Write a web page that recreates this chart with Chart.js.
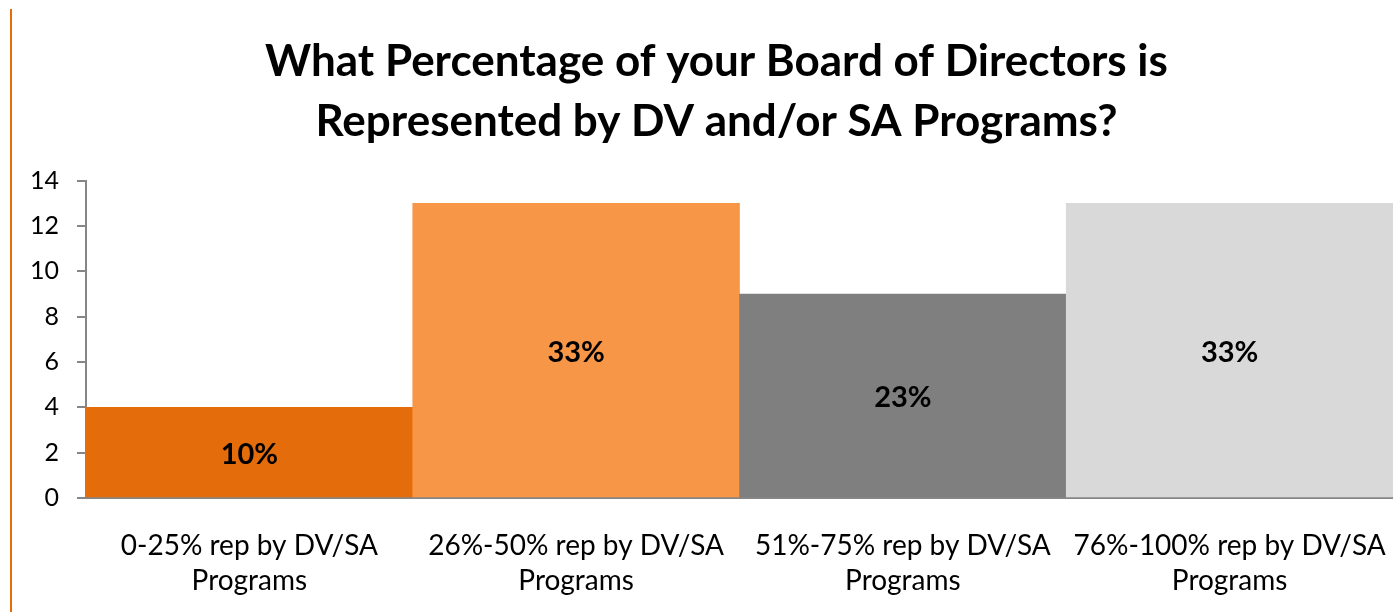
<!DOCTYPE html>
<html>
<head>
<meta charset="utf-8">
<script src="https://cdn.jsdelivr.net/npm/chart.js@4/dist/chart.umd.min.js"></script>
<style>
  html, body { margin: 0; padding: 0; background: #fff; }
  #wrap { position: relative; width: 1393px; height: 612px; }
  #edge { position: absolute; left: 10px; top: 9px; width: 2px; height: 603px; background: #E46C0A; }
</style>
</head>
<body>
<div id="wrap">
  <div id="edge"></div>
  <canvas id="bar_chart" width="1393" height="612"></canvas>
</div>
<script>

const categories = [
  ['0-25% rep by DV/SA', 'Programs'],
  ['26%-50% rep by DV/SA', 'Programs'],
  ['51%-75% rep by DV/SA', 'Programs'],
  ['76%-100% rep by DV/SA', 'Programs']
];
const counts = [4, 13, 9, 13];
const shares = ['10%', '33%', '23%', '33%'];
const barColors = ['#E46C0A', '#F79646', '#7F7F7F', '#D9D9D9'];
const titleLines = ['What Percentage of your Board of Directors is', 'Represented by DV and/or SA Programs?'];

const FONT = 'Lato, "Open Sans", sans-serif';

// draws the percentage in the middle of every bar
const shareLabels = {
  id: 'shareLabels',
  afterLayout(chart) {
    // center the title a bit further right, like the original
    chart.titleBlock.left = 40;
  },
  afterDatasetsDraw(chart) {
    const ctx = chart.ctx;
    const meta = chart.getDatasetMeta(0);
    ctx.save();
    ctx.font = 'bold 29px ' + FONT;
    ctx.fillStyle = '#000';
    ctx.textAlign = 'center';
    ctx.textBaseline = 'middle';
    meta.data.forEach((bar, i) => {
      const mid = (bar.y + bar.base) / 2;
      ctx.fillText(shares[i], bar.x, mid + 2);
    });
    ctx.restore();
  }
};

const config = {
  type: 'bar',
  data: {
    labels: categories,
    datasets: [{
      label: 'Count',
      data: counts,
      backgroundColor: barColors,
      borderWidth: 0,
      barPercentage: 1,
      categoryPercentage: 1
    }]
  },
  options: {
    responsive: false,
    animation: false,
    layout: { padding: { left: 12, right: 0, top: 32, bottom: 4 } },
    plugins: {
      legend: { display: false },
      tooltip: { enabled: false },
      title: {
        display: true,
        text: titleLines,
        color: '#000',
        font: { family: FONT, size: 44, weight: 'bold', lineHeight: 1.36 },
        padding: { top: 0, bottom: 29 }
      }
    },
    scales: {
      x: {
        grid: { display: false },
        border: { color: '#868686', width: 2 },
        ticks: {
          color: '#000',
          font: { family: FONT, size: 28, lineHeight: 1.25 },
          maxRotation: 0,
          padding: 22
        },
        afterFit: (scale) => {
          scale.height = 110;
          scale.paddingLeft = 0;
          scale.paddingRight = 0;
        }
      },
      y: {
        min: 0,
        max: 14,
        grid: { drawOnChartArea: false, drawTicks: true, tickLength: 9, color: '#868686', lineWidth: 2 },
        border: { color: '#868686', width: 2 },
        ticks: {
          stepSize: 2,
          color: '#000',
          font: { family: FONT, size: 25 },
          padding: 18
        }
      }
    }
  },
  plugins: [shareLabels]
};

const ctx = document.getElementById('bar_chart').getContext('2d');
var myChart = new Chart(ctx, config);
</script>
</body>
</html>
